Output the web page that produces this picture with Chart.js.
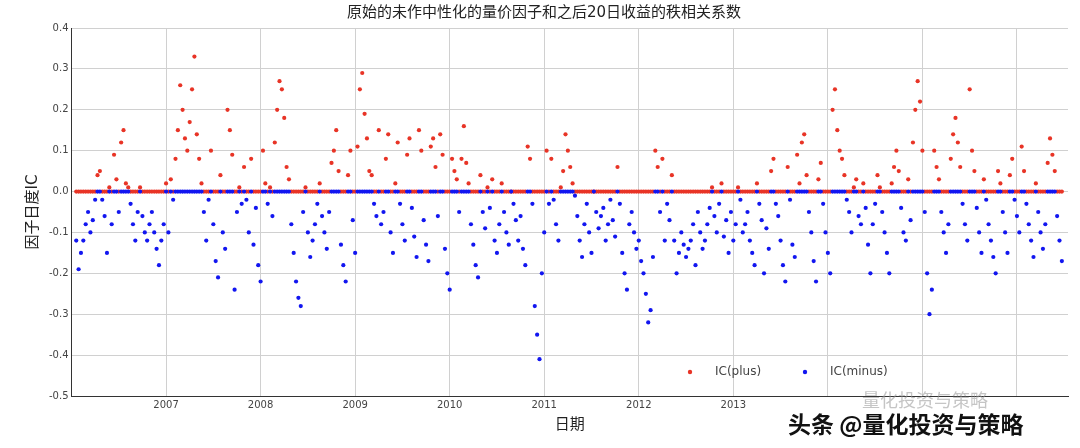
<!DOCTYPE html>
<html>
<head>
<meta charset="utf-8">
<script src="https://cdn.jsdelivr.net/npm/chart.js@4/dist/chart.umd.min.js"></script>
<style>
  body { margin: 0; background: #fff; }
  #wrap { width: 1080px; height: 448px; }
</style>
</head>
<body>
<div id="wrap"><canvas id="c" width="1080" height="448"></canvas></div>
<script>
// Daily-ish rank IC samples, one row per year (2016 partial).
const START_YEAR = 2006.05;
const STEP_YEARS = 0.025;
const icValues = [
  -0.12,-0.19,-0.15,-0.12,-0.08,-0.05,-0.1,-0.07,-0.02,0.04,0.05,-0.02,-0.06,-0.15,0.01,-0.08,0.09,0.03,-0.05,0.12,0.15,0.02,0.01,-0.03,-0.08,-0.12,-0.05,0.01,-0.06,-0.1,-0.12,-0.08,-0.05,-0.1,-0.14,-0.18,-0.12,-0.08,0.02,-0.1,
  0.03,-0.02,0.08,0.15,0.26,0.2,0.13,0.1,0.17,0.25,0.33,0.14,0.08,0.02,-0.05,-0.12,-0.02,0.1,-0.08,-0.17,-0.21,0.04,-0.1,-0.14,0.2,0.15,0.09,-0.24,-0.05,0.01,-0.03,0.06,-0.02,-0.1,0.08,-0.13,-0.04,-0.18,-0.22,0.1,
  0.02,-0.03,0.01,-0.06,0.12,0.2,0.27,0.25,0.18,0.06,0.03,-0.08,-0.15,-0.22,-0.26,-0.28,-0.05,0.01,-0.1,-0.16,-0.12,-0.08,-0.03,0.02,-0.06,-0.1,-0.14,-0.05,0.07,0.1,0.15,0.05,-0.13,-0.18,-0.22,0.04,0.1,-0.07,-0.15,0.11,
  0.25,0.29,0.19,0.13,0.05,0.04,-0.03,-0.06,0.15,-0.08,-0.05,0.08,0.14,-0.1,-0.15,0.02,0.12,-0.03,-0.08,-0.12,0.09,0.13,-0.04,-0.11,-0.16,0.15,0.1,-0.07,-0.13,-0.17,0.11,0.13,0.06,-0.06,0.14,0.09,-0.14,-0.2,-0.24,0.08,
  0.05,0.03,-0.05,0.08,0.16,0.07,0.02,-0.08,-0.13,-0.18,-0.21,0.04,-0.05,-0.09,0.01,-0.04,0.03,-0.12,-0.15,-0.08,0.02,-0.05,-0.1,-0.13,0.0,-0.03,-0.07,-0.12,-0.06,-0.14,-0.18,0.11,0.08,-0.03,-0.28,-0.35,-0.41,-0.2,-0.1,0.1,
  -0.03,0.08,-0.02,-0.08,-0.12,0.01,0.05,0.14,0.1,0.06,0.02,-0.01,-0.06,-0.12,-0.16,-0.08,-0.03,-0.1,-0.15,0.0,-0.05,-0.09,-0.06,-0.04,-0.12,-0.08,-0.02,-0.07,-0.11,0.06,-0.03,-0.15,-0.2,-0.24,-0.08,-0.05,-0.1,-0.14,-0.12,-0.17,
  -0.2,-0.25,-0.32,-0.29,-0.16,0.1,0.06,-0.05,0.08,-0.12,-0.03,-0.07,0.04,-0.12,-0.2,-0.15,-0.1,-0.13,-0.16,-0.14,-0.12,-0.08,-0.18,-0.05,-0.1,-0.14,-0.12,-0.08,-0.04,0.01,-0.06,-0.1,-0.03,0.02,-0.11,-0.07,-0.15,-0.05,-0.12,-0.08,
  0.01,-0.02,-0.1,-0.08,-0.05,-0.12,-0.15,-0.18,0.02,-0.03,-0.07,-0.2,-0.09,-0.14,0.05,0.08,-0.03,-0.06,-0.12,-0.18,-0.22,0.06,-0.02,-0.13,-0.16,0.09,0.02,0.12,0.14,0.04,-0.05,-0.1,-0.17,-0.22,0.03,0.07,-0.03,-0.1,-0.15,-0.2,
  0.2,0.25,0.15,0.1,0.08,0.04,-0.02,-0.05,-0.1,0.01,0.03,-0.06,-0.08,0.02,-0.04,-0.13,-0.2,-0.08,-0.03,0.04,0.01,-0.05,-0.1,-0.15,-0.2,0.02,0.06,0.1,0.05,-0.04,-0.1,-0.12,0.03,-0.07,0.12,0.2,0.27,0.22,0.1,-0.05,
  -0.2,-0.3,-0.24,0.1,0.06,0.03,-0.05,-0.1,-0.15,-0.08,0.08,0.14,0.18,0.12,0.06,-0.03,-0.08,-0.12,0.25,0.1,0.05,-0.04,-0.1,-0.15,0.03,-0.02,-0.08,-0.12,-0.16,-0.2,0.05,0.02,-0.05,-0.1,-0.15,0.04,0.08,-0.02,-0.06,-0.1,
  0.11,0.05,-0.03,-0.08,-0.12,-0.16,0.02,-0.05,-0.1,-0.14,-0.08,0.07,0.13,0.09,0.05,-0.06,-0.12,-0.17
];
const yearLabels = ['2007', '2008', '2009', '2010', '2011', '2012', '2013'];
const yTicks = [0.4, 0.3, 0.2, 0.1, 0.0, -0.1, -0.2, -0.3, -0.4, -0.5];

const RED = 'rgb(232,52,38)';
const BLUE = 'rgb(18,22,240)';
const FONT = "'DejaVu Sans', 'Noto Sans CJK SC', sans-serif";

const dates = icValues.map((_, i) => START_YEAR + i * STEP_YEARS);
const plusPts = icValues.map((v, i) => ({ x: dates[i], y: Math.max(v, 0) }));
const minusPts = icValues.map((v, i) => ({ x: dates[i], y: Math.min(v, 0) }));

const overlay = {
  id: 'overlay',
  afterDraw(chart) {
    const { ctx, chartArea } = chart;
    ctx.save();
    // legend
    const ly = chartArea.bottom - 24;
    ctx.font = `12px ${FONT}`;
    ctx.textBaseline = 'middle';
    [[RED, 'IC(plus)', 690], [BLUE, 'IC(minus)', 805]].forEach(([col, txt, x]) => {
      ctx.fillStyle = col;
      ctx.beginPath(); ctx.arc(x, ly, 2.2, 0, Math.PI * 2); ctx.fill();
      ctx.fillStyle = '#444';
      ctx.fillText(txt, x + 25, ly);
    });
    // watermark
    ctx.font = `18px 'Noto Sans CJK SC', sans-serif`;
    ctx.fillStyle = 'rgba(150,150,150,0.55)';
    ctx.fillText('量化投资与策略', 862, 400);
    ctx.font = `bold 23px 'Noto Sans CJK SC', sans-serif`;
    ctx.fillStyle = '#111';
    ctx.fillText('头条 @量化投资与策略', 788, 424);
    ctx.restore();
  }
};

new Chart(document.getElementById('c'), {
  type: 'scatter',
  data: {
    datasets: [
      { label: 'IC(plus)', data: plusPts, backgroundColor: RED, borderWidth: 0, pointRadius: 2.1, order: 1 },
      { label: 'IC(minus)', data: minusPts, backgroundColor: BLUE, borderWidth: 0, pointRadius: 2.1, order: 0 },
    ],
  },
  options: {
    responsive: false,
    animation: false,
    layout: { padding: { left: 20, right: 12, top: 2, bottom: 12 } },
    plugins: {
      legend: { display: false },
      tooltip: { enabled: false },
      title: {
        display: true,
        text: '原始的未作中性化的量价因子和之后20日收益的秩相关系数',
        font: { family: FONT, size: 15, weight: 'normal' },
        color: '#222',
        padding: { top: 2, bottom: 6 },
      },
    },
    scales: {
      x: {
        type: 'linear',
        min: 2006.0,
        max: 2016.54,
        afterBuildTicks: (axis) => {
          axis.ticks = [2007, 2008, 2009, 2010, 2011, 2012, 2013, 2014, 2015, 2016].map((v) => ({ value: v }));
        },
        ticks: {
          font: { family: FONT, size: 10 },
          color: '#444',
          callback: (v) => yearLabels.includes(String(v)) ? String(v) : '',
        },
        grid: { color: '#d0d0d0', drawTicks: false },
        border: { color: '#333', width: 1 },
        title: { display: true, text: '日期', font: { family: FONT, size: 15 }, color: '#222', padding: 2 },
      },
      y: {
        min: -0.5,
        max: 0.4,
        afterBuildTicks: (axis) => { axis.ticks = yTicks.map((v) => ({ value: v })); },
        ticks: {
          font: { family: FONT, size: 10 },
          color: '#444',
          callback: (v) => v.toFixed(1),
        },
        grid: { color: '#d0d0d0', drawTicks: false },
        border: { color: '#333', width: 1 },
        title: { display: true, text: '因子日度IC', font: { family: FONT, size: 15 }, color: '#222', padding: 4 },
      },
    },
  },
  plugins: [overlay],
});
</script>
</body>
</html>
